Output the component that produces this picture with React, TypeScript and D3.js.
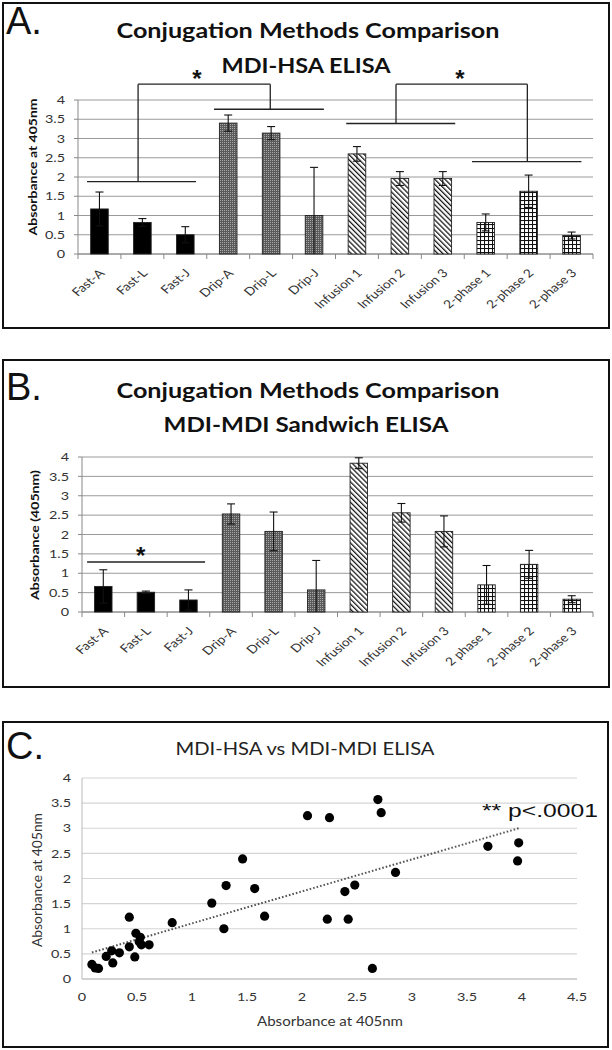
import React from 'react';
import * as d3 from 'd3';

const categoriesA = ['Fast-A', 'Fast-L', 'Fast-J', 'Drip-A', 'Drip-L', 'Drip-J', 'Infusion 1', 'Infusion 2', 'Infusion 3', '2-phase 1', '2-phase 2', '2-phase 3'];
const categoriesB = ['Fast-A', 'Fast-L', 'Fast-J', 'Drip-A', 'Drip-L', 'Drip-J', 'Infusion 1', 'Infusion 2', 'Infusion 3', '2 phase 1', '2-phase 2', '2-phase 3'];
const methodGroups = ['fast', 'fast', 'fast', 'drip', 'drip', 'drip', 'infusion', 'infusion', 'infusion', 'twophase', 'twophase', 'twophase'];
const valuesA = [1.17, 0.82, 0.5, 3.4, 3.14, 1.0, 2.6, 1.96, 1.96, 0.82, 1.63, 0.48];
const errorsA = [0.44, 0.1, 0.21, 0.21, 0.17, 1.25, 0.19, 0.18, 0.18, 0.22, 0.42, 0.09];
const valuesB = [0.66, 0.51, 0.31, 2.53, 2.08, 0.57, 3.84, 2.56, 2.08, 0.7, 1.23, 0.33];
const errorsB = [0.43, 0.03, 0.26, 0.26, 0.5, 0.76, 0.14, 0.24, 0.4, 0.5, 0.36, 0.09];
const barTicks = [0, 0.5, 1, 1.5, 2, 2.5, 3, 3.5, 4];
const barTickLabels = ['0', '0.5', '1', '1.5', '2', '2.5', '3', '3.5', '4'];

// significance brackets (x in category-slot units, y in absorbance units)
const bracketLinesA = [
  { x1: 1.4, x2: 4.48, y1: 4.41, y2: 4.41 },
  { x1: 1.4, x2: 1.4, y1: 4.41, y2: 1.88 },
  { x1: 0.21, x2: 2.75, y1: 1.88, y2: 1.88 },
  { x1: 4.48, x2: 4.48, y1: 4.41, y2: 3.76 },
  { x1: 3.17, x2: 5.73, y1: 3.76, y2: 3.76 },
  { x1: 7.41, x2: 10.47, y1: 4.41, y2: 4.41 },
  { x1: 7.41, x2: 7.41, y1: 4.41, y2: 3.39 },
  { x1: 6.25, x2: 8.79, y1: 3.39, y2: 3.39 },
  { x1: 10.47, x2: 10.47, y1: 4.41, y2: 2.4 },
  { x1: 9.18, x2: 11.73, y1: 2.4, y2: 2.4 },
];
const starsA = [{ x: 2.77, y: 4.62 }, { x: 8.9, y: 4.62 }];
const bracketLinesB = [{ x1: 0.12, x2: 2.89, y1: 1.29, y2: 1.29 }];
const starsB = [{ x: 1.38, y: 1.53 }];

const scatterX = [2.05, 2.25, 2.69, 2.72, 3.69, 3.97, 3.96, 2.85, 1.46, 1.31, 1.57, 1.18, 0.43, 1.66, 0.82, 1.29, 2.23, 2.42, 2.39, 2.48, 2.64, 0.49, 0.53, 0.52, 0.54, 0.61, 0.43, 0.27, 0.34, 0.22, 0.48, 0.28, 0.09, 0.12, 0.15];
const scatterY = [3.25, 3.21, 3.57, 3.31, 2.64, 2.71, 2.35, 2.12, 2.39, 1.86, 1.8, 1.51, 1.23, 1.25, 1.12, 1.0, 1.19, 1.19, 1.74, 1.87, 0.21, 0.91, 0.83, 0.74, 0.68, 0.68, 0.64, 0.56, 0.52, 0.45, 0.44, 0.32, 0.29, 0.22, 0.21];
const scatterXTicks = [0, 0.5, 1, 1.5, 2, 2.5, 3, 3.5, 4, 4.5];
const scatterXTickLabels = ['0', '0.5', '1', '1.5', '2', '2.5', '3', '3.5', '4', '4.5'];
const scatterYTicks = [0, 0.5, 1, 1.5, 2, 2.5, 3, 3.5, 4];
const scatterYTickLabels = ['0', '0.5', '1', '1.5', '2', '2.5', '3', '3.5', '4'];

const SX = 1.2;
const CAL = "Lato, 'Open Sans', sans-serif";
const ARI = "'Liberation Sans', Arial, sans-serif";

function ST({ x, y, rot = 0, anchor = 'start', size = 11, weight = 'normal', family = CAL, fill = '#222', children, dy }: any) {
  return (
    <text
      transform={`translate(${x},${y}) scale(${SX},1)${rot ? ` rotate(${rot})` : ''}`}
      textAnchor={anchor}
      fontSize={size}
      fontWeight={weight}
      fontFamily={family}
      fill={fill}
      dy={dy}
    >
      {children}
    </text>
  );
}

const fillFor = (g: string) =>
  g === 'fast' ? '#000' : g === 'drip' ? 'url(#pDrip)' : g === 'infusion' ? 'url(#pInf)' : 'url(#pGrid)';

function BarPanel({ box, plot, cats, vals, errs, letter, letterY, t1, t1y, t1len, t2, t2y, t2len, t2x, ylabel, ylabelX, ylabelY, ylabelLen, lines, stars }: any) {
  const x = d3.scaleBand<string>().domain(cats).range([plot.x0, plot.x1]).paddingInner(0.59).paddingOuter(0.295);
  const step = (plot.x1 - plot.x0) / cats.length;
  const y = d3.scaleLinear().domain([0, 4]).range([plot.yb, plot.yt]);
  const ux = (u: number) => plot.x0 + u * step;
  const bw = x.bandwidth();
  return (
    <g>
      <rect x={box.x} y={box.y} width={box.w} height={box.h} fill="#fff" stroke="#111" strokeWidth={2} />
      <text x={6} y={letterY} fontSize={38} fontFamily={ARI} fill="#111">{letter}</text>
      <text x={308} y={t1y} textAnchor="middle" fontSize={21} fontWeight="bold" fontFamily={CAL} textLength={t1len} lengthAdjust="spacingAndGlyphs" fill="#111">{t1}</text>
      <text x={t2x} y={t2y} textAnchor="middle" fontSize={21} fontWeight="bold" fontFamily={CAL} textLength={t2len} lengthAdjust="spacingAndGlyphs" fill="#111">{t2}</text>
      {barTicks.map((t: number) => (
        <line key={'g' + t} x1={plot.x0} x2={plot.x1} y1={y(t)} y2={y(t)} stroke="#9a9a9a" strokeWidth={1} />
      ))}
      {barTicks.map((t: number, i: number) => (
        <g key={'yt' + t}>
          <line x1={plot.x0 - 4} x2={plot.x0} y1={y(t)} y2={y(t)} stroke="#888" />
          <ST x={plot.x0 - 13} y={y(t)} anchor="end" size={12} dy="0.35em" fill="#333">{barTickLabels[i]}</ST>
        </g>
      ))}
      <line x1={plot.x0} x2={plot.x0} y1={y(4)} y2={y(0)} stroke="#888" />
      <line x1={plot.x0} x2={plot.x1} y1={y(0)} y2={y(0)} stroke="#888" />
      {d3.range(cats.length + 1).map((i: number) => (
        <line key={'xt' + i} x1={ux(i)} x2={ux(i)} y1={y(0)} y2={y(0) + 5} stroke="#888" />
      ))}
      {cats.map((c: string, i: number) => {
        const cx = (x(c) as number) + bw / 2;
        const lo = Math.max(0, vals[i] - errs[i]);
        return (
          <g key={c + i}>
            <rect x={x(c)} y={y(vals[i])} width={bw} height={y(0) - y(vals[i])} fill={fillFor(methodGroups[i])} stroke="#222" strokeWidth={0.9} />
            <line x1={cx} x2={cx} y1={y(vals[i] + errs[i])} y2={y(lo)} stroke="#111" strokeWidth={1.1} />
            <line x1={cx - 4} x2={cx + 4} y1={y(vals[i] + errs[i])} y2={y(vals[i] + errs[i])} stroke="#111" strokeWidth={1.1} />
            {vals[i] - errs[i] > 0 && (
              <line x1={cx - 4} x2={cx + 4} y1={y(vals[i] - errs[i])} y2={y(vals[i] - errs[i])} stroke="#111" strokeWidth={1.1} />
            )}
            <ST x={cx} y={y(0) + 15} rot={-45} anchor="end" size={11.5} dy="0.6em" fill="#333">{c}</ST>
          </g>
        );
      })}
      {lines.map((l: any, i: number) => (
        <line key={'br' + i} x1={ux(l.x1)} x2={ux(l.x2)} y1={y(l.y1)} y2={y(l.y2)} stroke="#222" strokeWidth={1.3} />
      ))}
      {stars.map((s: any, i: number) => (
        <text key={'st' + i} x={ux(s.x)} y={y(s.y) + 11} textAnchor="middle" fontSize={24} fontWeight="bold" fontFamily={ARI} fill="#111">*</text>
      ))}
      <text transform={`translate(${ylabelX},${ylabelY}) rotate(-90)`} textAnchor="middle" fontSize={12} fontWeight="bold" fontFamily={CAL} textLength={ylabelLen} lengthAdjust="spacingAndGlyphs" fill="#111">{ylabel}</text>
    </g>
  );
}

function ScatterPanel() {
  const x = d3.scaleLinear().domain([0, 4.5]).range([82, 577]);
  const y = d3.scaleLinear().domain([0, 4]).range([979, 778]);
  const mx = d3.mean(scatterX) as number;
  const my = d3.mean(scatterY) as number;
  let sxy = 0, sxx = 0;
  scatterX.forEach((v, i) => { sxy += (v - mx) * (scatterY[i] - my); sxx += (v - mx) * (v - mx); });
  const slope = sxy / sxx;
  const icpt = my - slope * mx;
  const xa = d3.min(scatterX) as number;
  const xb = d3.max(scatterX) as number;
  return (
    <g>
      <rect x={3} y={722} width={605} height={325} fill="#fff" stroke="#111" strokeWidth={2} />
      <text x={6} y={759} fontSize={38} fontFamily={ARI} fill="#111">C.</text>
      <text x={305} y={755} textAnchor="middle" fontSize={18} fontFamily={CAL} textLength={259} lengthAdjust="spacingAndGlyphs" fill="#222">MDI-HSA vs MDI-MDI ELISA</text>
      {scatterYTicks.map((t) => (
        <line key={'g' + t} x1={x(0)} x2={x(4.5)} y1={y(t)} y2={y(t)} stroke="#d4d4d4" strokeWidth={1.2} />
      ))}
      <line x1={x(0)} x2={x(0)} y1={y(4)} y2={y(0)} stroke="#bbb" />
      <line x1={x(0)} x2={x(4.5)} y1={y(0)} y2={y(0)} stroke="#bbb" />
      {scatterYTicks.map((t, i) => (
        <ST key={'yl' + t} x={71} y={y(t)} anchor="end" size={12} dy="0.35em" fill="#333">{scatterYTickLabels[i]}</ST>
      ))}
      {scatterXTicks.map((t, i) => (
        <ST key={'xl' + t} x={x(t)} y={1001} anchor="middle" size={12} fill="#333">{scatterXTickLabels[i]}</ST>
      ))}
      <text x={330} y={1026} textAnchor="middle" fontSize={13} fontFamily={CAL} textLength={146} lengthAdjust="spacingAndGlyphs" fill="#333">Absorbance at 405nm</text>
      <text transform="translate(42,880) rotate(-90)" textAnchor="middle" fontSize={13} fontFamily={CAL} textLength={134} lengthAdjust="spacingAndGlyphs" fill="#333">Absorbance at 405nm</text>
      <line x1={x(xa)} x2={x(xb)} y1={y(icpt + slope * xa)} y2={y(icpt + slope * xb)} stroke="#555" strokeWidth={2} strokeDasharray="1.6 2" />
      {scatterX.map((v, i) => (
        <circle key={'p' + i} cx={x(v)} cy={y(scatterY[i])} r={4.6} fill="#000" />
      ))}
      <text x={482} y={817} fontSize={19} fontFamily={ARI} textLength={116} lengthAdjust="spacingAndGlyphs" fill="#111">** p&lt;.0001</text>
    </g>
  );
}

export default function App() {
  return (
    <svg width={612} height={1050} style={{ position: 'absolute', left: 0, top: 0, background: '#fff' }}>
      <defs>
        <pattern id="pDrip" width={2} height={2} patternUnits="userSpaceOnUse">
          <rect width={2} height={2} fill="#5a5a5a" />
          <rect width={1} height={1} fill="#a8a8a8" />
        </pattern>
        <pattern id="pInf" width={3.6} height={3.6} patternUnits="userSpaceOnUse" patternTransform="rotate(-45)">
          <rect width={3.6} height={3.6} fill="#fff" />
          <line x1={0.6} y1={0} x2={0.6} y2={3.6} stroke="#111" strokeWidth={1.3} />
        </pattern>
        <pattern id="pGrid" width={4} height={4} patternUnits="userSpaceOnUse">
          <rect width={4} height={4} fill="#fff" />
          <line x1={0} y1={0.5} x2={4} y2={0.5} stroke="#111" strokeWidth={1.1} />
          <line x1={0.5} y1={0} x2={0.5} y2={4} stroke="#111" strokeWidth={1.1} />
        </pattern>
      </defs>
      <rect width={612} height={1050} fill="#fff" />
      <BarPanel
        box={{ x: 3, y: 3, w: 606, h: 325 }}
        plot={{ x0: 78, x1: 593, yb: 254, yt: 100 }}
        cats={categoriesA} vals={valuesA} errs={errorsA}
        letter="A." letterY={34}
        t1="Conjugation Methods Comparison" t1y={38} t1len={383}
        t2="MDI-HSA ELISA" t2y={73} t2len={169} t2x={306}
        ylabel="Absorbance at 405nm" ylabelX={36.5} ylabelY={167} ylabelLen={137}
        lines={bracketLinesA} stars={starsA}
      />
      <BarPanel
        box={{ x: 3, y: 360, w: 606, h: 327 }}
        plot={{ x0: 82, x1: 593, yb: 612, yt: 457 }}
        cats={categoriesB} vals={valuesB} errs={errorsB}
        letter="B." letterY={400}
        t1="Conjugation Methods Comparison" t1y={398} t1len={383}
        t2="MDI-MDI Sandwich ELISA" t2y={432} t2len={285} t2x={306}
        ylabel="Absorbance  (405nm)" ylabelX={39} ylabelY={535} ylabelLen={130}
        lines={bracketLinesB} stars={starsB}
      />
      <ScatterPanel />
    </svg>
  );
}
